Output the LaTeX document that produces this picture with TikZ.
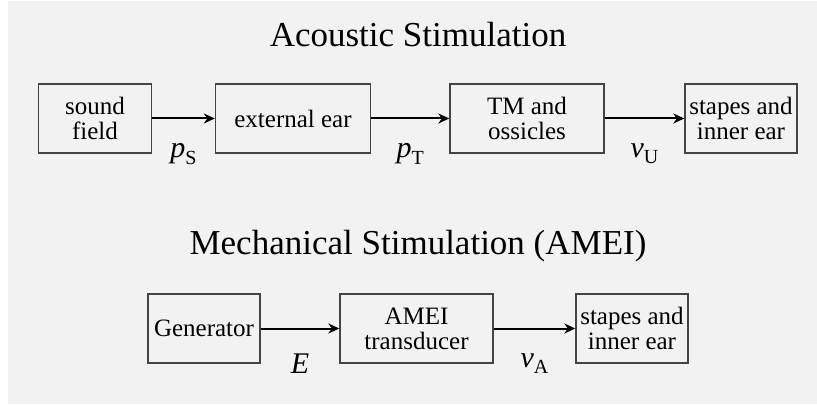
\documentclass[tikz,border=0pt]{standalone}
\usepackage{fontspec}
\setmainfont{Liberation Serif}
\usetikzlibrary{arrows.meta}

\definecolor{bgcol}{HTML}{F2F2F2}
\definecolor{boxcol}{HTML}{444444}

% signal label: italic symbol with upright subscript
\newcommand{\sigl}[2]{{\fontsize{15}{15}\selectfont\itshape #1}\raisebox{-3.3pt}{\fontsize{10}{10}\selectfont #2}}

\tikzset{
  blk/.style={draw=boxcol, line width=0.7pt, fill=bgcol, align=center,
    minimum height=34.5pt, inner sep=1pt, font=\fontsize{12.5}{12.5}\selectfont},
  flow/.style={line width=1pt, -{Stealth[length=5.5pt,width=5pt]}},
  sig/.style={below=12pt, inner sep=0pt},
  ttl/.style={anchor=base, font=\fontsize{17.5}{17.5}\selectfont}
}

\begin{document}
\begin{tikzpicture}[x=0.5pt, y=-0.5pt]
  \fill[white] (0,0) rectangle (817,405);
  \fill[bgcol] (8,1) rectangle (817,404);
  \useasboundingbox (0,0) rectangle (817,405);

  \node[ttl] (acu) at (418,47) {Acoustic Stimulation};
  \node[blk, minimum width=56.5pt] (sf) at (95,118.5) {sound\\field}; % source
  \node[blk, minimum width=77.5pt] (ee) at (293,118.5) {external ear};
  \node[blk, minimum width=77pt] (tm) at (527,118.5) {TM and\\ossicles};
  \node[blk, minimum width=56pt] (si) at (741,118.5) {stapes and\\inner ear};
  \draw[flow] (sf) -- node[sig] {\sigl{p}{S}} (ee);
  \draw[flow] (ee) -- node[sig] {\sigl{p}{T}} (tm);
  \draw[flow] (tm) -- node[sig] {\sigl{v}{U}} (si);

  \node[ttl] (mec) at (418,255) {Mechanical Stimulation (AMEI)};
  \node[blk, minimum width=56pt] (gen) at (204,328.5) {Generator};
  \node[blk, minimum width=76.5pt] (am) at (416.5,328.5) {AMEI\\transducer};
  \node[blk, minimum width=56pt] (si2) at (632,328.5) {stapes and\\inner ear};
  \draw[flow] (gen) -- node[sig] {{\fontsize{15}{15}\selectfont\itshape E}} (am);
  \draw[flow] (am) -- node[sig] {\sigl{v}{A}} (si2);
\end{tikzpicture}
\end{document}
